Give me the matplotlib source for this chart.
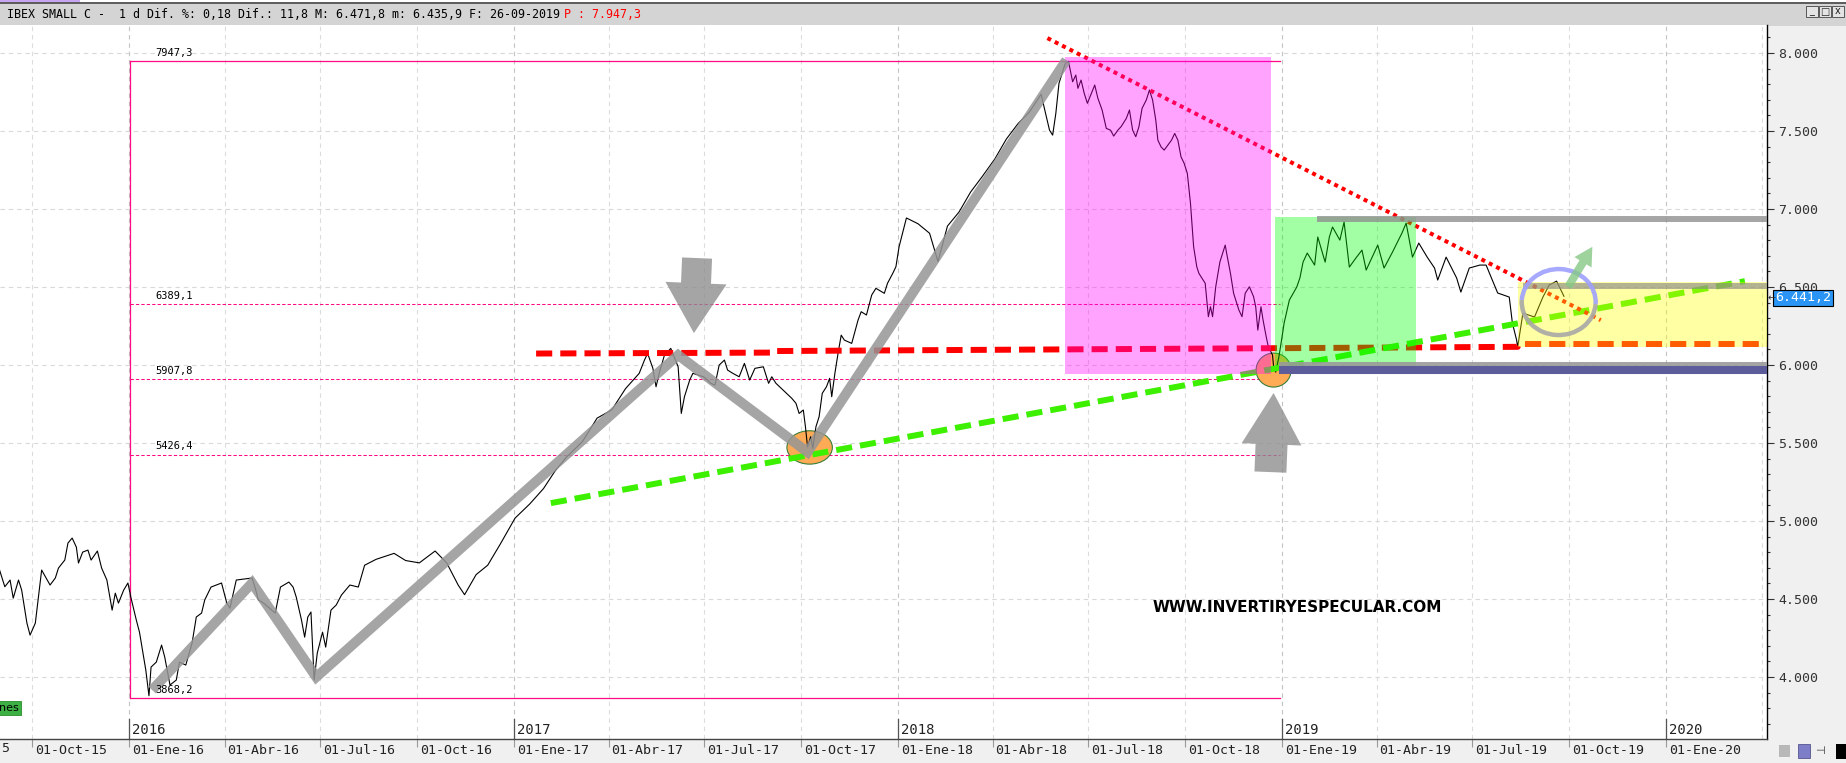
import matplotlib.pyplot as plt
import matplotlib.dates as mdates
from matplotlib.patches import Rectangle, Ellipse, Arc
from matplotlib.transforms import blended_transform_factory, ScaledTranslation
from matplotlib.ticker import MultipleLocator, FuncFormatter
import pandas as pd

# ==================== DATA ====================
price_dates = [
    '2015-08-31', '2015-09-05', '2015-09-10', '2015-09-13', '2015-09-18', '2015-09-21', '2015-09-26',
    '2015-09-29', '2015-10-04', '2015-10-10', '2015-10-18', '2015-10-23', '2015-10-26', '2015-11-01',
    '2015-11-04', '2015-11-08', '2015-11-12', '2015-11-14', '2015-11-18', '2015-11-23', '2015-11-26',
    '2015-12-02', '2015-12-06', '2015-12-11', '2015-12-16', '2015-12-19', '2015-12-22', '2015-12-27',
    '2015-12-31',
    '2016-01-03', '2016-01-08', '2016-01-11', '2016-01-17', '2016-01-20', '2016-01-22', '2016-01-27',
    '2016-02-01', '2016-02-04', '2016-02-09', '2016-02-15', '2016-02-18', '2016-02-24', '2016-03-01',
    '2016-03-05', '2016-03-10', '2016-03-13', '2016-03-19', '2016-03-29', '2016-04-03', '2016-04-06',
    '2016-04-12', '2016-04-27', '2016-04-30', '2016-05-03', '2016-05-08', '2016-05-19', '2016-05-24',
    '2016-06-01', '2016-06-05', '2016-06-08', '2016-06-13', '2016-06-16', '2016-06-19', '2016-06-22',
    '2016-06-25', '2016-06-28', '2016-07-03', '2016-07-06', '2016-07-11', '2016-07-16', '2016-07-21',
    '2016-07-29', '2016-08-06', '2016-08-12', '2016-08-23', '2016-09-09', '2016-09-20', '2016-10-03',
    '2016-10-18', '2016-10-29', '2016-11-09', '2016-11-15', '2016-11-26', '2016-12-07', '2016-12-19',
    '2017-01-02', '2017-01-16', '2017-01-29', '2017-02-09', '2017-02-20', '2017-03-07', '2017-03-21',
    '2017-04-04', '2017-04-17', '2017-04-30', '2017-05-05', '2017-05-08', '2017-05-13', '2017-05-16',
    '2017-05-19', '2017-05-24', '2017-05-30', '2017-06-06', '2017-06-09', '2017-06-12', '2017-06-17',
    '2017-06-20', '2017-06-30', '2017-07-04', '2017-07-07', '2017-07-11', '2017-07-15', '2017-07-20',
    '2017-07-23', '2017-07-28', '2017-08-03', '2017-08-08', '2017-08-13', '2017-08-18', '2017-08-26',
    '2017-08-31', '2017-09-03', '2017-09-07', '2017-09-12', '2017-09-17', '2017-09-22', '2017-09-26',
    '2017-09-29', '2017-10-03', '2017-10-05', '2017-10-07', '2017-10-10', '2017-10-12', '2017-10-15',
    '2017-10-18', '2017-10-21', '2017-10-25', '2017-10-28', '2017-10-30', '2017-11-02', '2017-11-05',
    '2017-11-08', '2017-11-11', '2017-11-18', '2017-11-21', '2017-11-24', '2017-11-27', '2017-12-02',
    '2017-12-07', '2017-12-11', '2017-12-19', '2017-12-22', '2017-12-27', '2017-12-30',
    '2018-01-02', '2018-01-09', '2018-01-20', '2018-01-31', '2018-02-08', '2018-02-17', '2018-02-28',
    '2018-03-11', '2018-03-22', '2018-04-03', '2018-04-14', '2018-04-25', '2018-05-06', '2018-05-17',
    '2018-05-25', '2018-05-28', '2018-05-31', '2018-06-03', '2018-06-09', '2018-06-12', '2018-06-14',
    '2018-06-16', '2018-06-19', '2018-06-21', '2018-06-24', '2018-06-27', '2018-06-30', '2018-07-07',
    '2018-07-10', '2018-07-14', '2018-07-18', '2018-07-22', '2018-07-25', '2018-07-29', '2018-08-01',
    '2018-08-06', '2018-08-09', '2018-08-12', '2018-08-15', '2018-08-18', '2018-08-21', '2018-08-25',
    '2018-08-28', '2018-08-31', '2018-09-03', '2018-09-05', '2018-09-08', '2018-09-11', '2018-09-18',
    '2018-09-21', '2018-09-24', '2018-09-27', '2018-09-30', '2018-10-03', '2018-10-06', '2018-10-09',
    '2018-10-12', '2018-10-14', '2018-10-20', '2018-10-23', '2018-10-25', '2018-10-27', '2018-10-30',
    '2018-11-03', '2018-11-08', '2018-11-10', '2018-11-13', '2018-11-16', '2018-11-19', '2018-11-21',
    '2018-11-24', '2018-11-27', '2018-12-01', '2018-12-05', '2018-12-07', '2018-12-09', '2018-12-12',
    '2018-12-14', '2018-12-17', '2018-12-19', '2018-12-23', '2018-12-24', '2018-12-26', '2018-12-29',
    '2019-01-01', '2019-01-03', '2019-01-08', '2019-01-15', '2019-01-18', '2019-01-21', '2019-01-25',
    '2019-02-01', '2019-02-04', '2019-02-11', '2019-02-15', '2019-02-18', '2019-02-25', '2019-03-01',
    '2019-03-06', '2019-03-12', '2019-03-18', '2019-03-22', '2019-04-02', '2019-04-08', '2019-04-16',
    '2019-04-25', '2019-04-29', '2019-05-05', '2019-05-11', '2019-05-19', '2019-05-26', '2019-05-29',
    '2019-06-06', '2019-06-16', '2019-06-20', '2019-06-28', '2019-07-08', '2019-07-14', '2019-07-25',
    '2019-08-05', '2019-08-08', '2019-08-12', '2019-08-13', '2019-08-18', '2019-08-29', '2019-09-06',
    '2019-09-12', '2019-09-19', '2019-09-26',
]
price_values = [
    4686, 4579, 4622, 4506, 4622, 4558, 4346,
    4269, 4346, 4686, 4590, 4635, 4699, 4750,
    4859, 4891, 4833, 4731, 4801, 4814, 4750,
    4808, 4699, 4622, 4429, 4538, 4474, 4558,
    4603,
    4506, 4365, 4288, 4045, 3880, 4064, 4096,
    4205, 4128, 3949, 3981, 4096, 4077, 4218,
    4385, 4410, 4494, 4577, 4603, 4474, 4442,
    4622, 4635, 4571, 4494, 4474, 4410, 4577,
    4609, 4577, 4513, 4365, 4256, 4385, 4417,
    3981, 4154, 4288, 4192, 4429, 4462, 4526,
    4590, 4577, 4717, 4755, 4793, 4747, 4732,
    4808, 4732, 4589, 4528, 4657, 4717, 4853,
    5019, 5110, 5208, 5321, 5411, 5509, 5660,
    5713, 5849, 5947, 6032, 6075, 5979, 5861,
    5947, 6064, 6107, 5989, 5690, 5797, 5904,
    5947, 5925, 5904, 5883, 5872, 6000, 6032,
    5968, 5947, 5925, 6011, 5904, 5979, 5989,
    5883, 5925, 5883, 5851, 5819, 5787, 5755,
    5690, 5712, 5605, 5476, 5541, 5467, 5605,
    5669, 5819, 5861, 5915, 5797, 5947, 6075,
    6192, 6160, 6139, 6214, 6288, 6342, 6321,
    6449, 6492, 6460, 6524, 6588, 6630,
    6758, 6943, 6906, 6845, 6664, 6891, 6981,
    7109, 7208, 7321, 7449, 7547, 7623, 7736,
    7506, 7474, 7613, 7806, 7934, 7947, 7880,
    7816, 7859, 7774, 7827, 7742, 7678, 7795,
    7710, 7635, 7517, 7506, 7468, 7506, 7528,
    7581, 7635, 7506, 7464, 7528, 7646, 7699,
    7763, 7699, 7571, 7442, 7399, 7378, 7442,
    7485, 7442, 7335, 7293, 7229, 7037, 6758,
    6630, 6588, 6524, 6310, 6374, 6310, 6502,
    6662, 6769, 6694, 6588, 6460, 6396, 6353,
    6310, 6460, 6502, 6438, 6374, 6224, 6374,
    6288, 6181, 6117, 6064, 5989, 5955, 6051,
    6179, 6269, 6417, 6500, 6558, 6660, 6718,
    6641, 6821, 6660, 6821, 6885, 6801, 6917,
    6628, 6684, 6737, 6609, 6769, 6622, 6724,
    6846, 6910, 6692, 6782, 6692, 6622, 6545,
    6692, 6558, 6468, 6622, 6641, 6641, 6462,
    6436, 6269, 6160, 6115, 6333, 6308, 6436,
    6513, 6538, 6441,
]

x_start, x_end = '2015-08-31 10:00', '2020-04-06'
y_min, y_max = 3603, 8180

# Fibonacci frame
fib_start, fib_end = '2016-01-02', '2018-12-30'
fib_high, fib_low = 7947.3, 3868.2
fib_levels = [6389.1, 5907.8, 5426.4]

# hand drawn lines
wave_dates = ['2016-01-23', '2016-04-27', '2016-06-27', '2017-06-06', '2017-10-07', '2018-06-10']
wave_values = [3917, 4603, 4000, 6064, 5442, 7955]
support_dates = ['2017-01-22', '2017-09-05', '2017-09-06', '2019-08-13', '2019-08-14', x_end]
support_values = [6074, 6080, 6090, 6117, 6135, 6135]
trend_up_dates = ['2017-02-05', '2020-03-16']
trend_up_values = [5115, 6538]
trend_down_dates = ['2018-05-23', '2019-10-31']
trend_down_values = [8096, 6288]

# zones: (start, end, low, high)
zone_pink = ('2018-06-09', '2018-12-22', 5940, 7972)
zone_green = ('2018-12-25', '2019-05-08', 5994, 6949)
zone_yellow = ('2019-08-13', x_end, 6115, 6532)

# horizontal bars: (start, level)
bar_top = ('2019-02-03', 6936)
bar_mid = ('2019-08-18', 6506)
bar_low = ('2018-12-29', 6010)
bar_navy = ('2018-12-29', 5968)

quarter_dates = pd.date_range('2015-10-01', '2020-04-01', freq='QS')
label_dates = pd.date_range('2015-10-01', '2020-01-01', freq='QS')
year_dates = pd.date_range('2016-01-01', '2020-01-01', freq='YS')
month_es = {1: 'Ene', 4: 'Abr', 7: 'Jul', 10: 'Oct'}

header_text = 'IBEX SMALL C -  1 d Dif. %: 0,18 Dif.: 11,8 M: 6.471,8 m: 6.435,9 F: 26-09-2019'
header_price = 'P : 7.947,3'
last_price = 6441.2
website = 'WWW.INVERTIRYESPECULAR.COM'

MONO = 'DejaVu Sans Mono'
W, H = 1846, 763


def dn(s):
    return mdates.date2num(pd.Timestamp(s))


def dates(lst):
    return pd.to_datetime(lst)


fig = plt.figure(figsize=(W / 100, H / 100), dpi=100)
ax = fig.add_axes([0, 24 / H, 1767 / W, 714 / H])
ax.set_xlim(pd.Timestamp(x_start), pd.Timestamp(x_end))
ax.set_ylim(y_min, y_max)

# ==================== BACKGROUND PANELS ====================
fig.patches.append(Rectangle((0, 1 - 26 / H), 1, 22 / H, transform=fig.transFigure,
                             fc='#d4d4d4', ec='none', zorder=-2))
fig.patches.append(Rectangle((0, 1 - 4 / H), 1, 2 / H, transform=fig.transFigure,
                             fc='#5e5e5e', ec='none', zorder=-1))
fig.patches.append(Rectangle((0, 1 - 2 / H), 80 / W, 2 / H, transform=fig.transFigure,
                             fc='#c6a4f0', ec='none', zorder=-1))
fig.patches.append(Rectangle((1767 / W, 0), 79 / W, 1 - 26 / H, transform=fig.transFigure,
                             fc='#f0f0f0', ec='none', zorder=-2))
fig.patches.append(Rectangle((0, 0), 1767 / W, 24 / H, transform=fig.transFigure,
                             fc='#f0f0f0', ec='none', zorder=-2))

# ==================== GRID ====================
for v in range(4000, 8001, 500):
    ax.axhline(v, color='#d9d9d9', lw=0.8, ls=(0, (4, 3.5)), zorder=0.5)
for d in quarter_dates:
    col = '#c4c4c4' if d.month == 1 else '#dcdcdc'
    ax.axvline(d, color=col, lw=0.8, ls=(0, (4, 3.5)), zorder=0.5)

# ==================== FIBONACCI FRAME ====================
fib_pink = '#ff0a82'
ax.plot(dates([fib_start, fib_end]), [fib_high, fib_high], color=fib_pink, lw=0.9, zorder=1)
ax.plot(dates([fib_start, fib_end]), [fib_low, fib_low], color=fib_pink, lw=0.9, zorder=1)
ax.plot(dates([fib_start, fib_start]), [fib_low, fib_high], color=fib_pink, lw=0.9, zorder=1)
for lvl in fib_levels:
    ax.plot(dates([fib_start, fib_end]), [lvl, lvl], color=fib_pink, lw=0.75,
            ls=(0, (3.2, 2)), zorder=1)
for lvl in [fib_high] + fib_levels + [fib_low]:
    ax.annotate(f'{lvl:.1f}'.replace('.', ','), xy=(dn(fib_start), lvl), xytext=(18.5, 2.2),
                textcoords='offset points', fontsize=7.5, family=MONO, color='black',
                va='bottom', ha='left', zorder=7)

# ==================== CIRCLES ====================
ax.add_patch(Ellipse((dn('2017-10-09'), 5472), 43.2, 214, fc='#ffaa55', ec='#3a7d3a', lw=0.8, zorder=1.5))
ax.add_patch(Ellipse((dn('2018-12-24'), 5968), 33.3, 218, fc='#ffaa55', ec='#3a7d3a', lw=0.8, zorder=1.5))

# ==================== PRICE ====================
ax.plot(dates(price_dates), price_values, color='black', lw=0.8, zorder=2)

# ==================== HAND DRAWN LINES ====================
ax.plot(dates(support_dates), support_values, color='#ff0000', lw=4.3,
        ls=(0, (2.7, 1.35)), zorder=3)
ax.plot(dates(trend_up_dates), trend_up_values, color='#3cf000', lw=4.3,
        ls=(0, (2.7, 1.35)), zorder=3)
ax.plot(dates(trend_down_dates), trend_down_values, color='#ff0000', lw=2.9,
        ls=(0, (1, 1.05)), zorder=3)

# ==================== ZONES ====================
for (d0, d1, lo, hi), col in [(zone_pink, '#ff00ff'), (zone_green, '#00ff00'), (zone_yellow, '#ffff00')]:
    ax.add_patch(Rectangle((dn(d0), lo), dn(d1) - dn(d0), hi - lo, fc=col, ec='none',
                           alpha=0.36, zorder=4))

ax.plot(dates([bar_top[0], x_end]), [bar_top[1]] * 2, color='#8f8f8f', lw=4.3, alpha=0.8,
        solid_capstyle='butt', zorder=4.5)
ax.plot(dates([bar_mid[0], x_end]), [bar_mid[1]] * 2, color='#8a8a8a', lw=4.3, alpha=0.65,
        solid_capstyle='butt', zorder=4.5)
ax.plot(dates([bar_navy[0], x_end]), [bar_navy[1]] * 2, color='#5c5c9a', lw=5.8,
        solid_capstyle='butt', zorder=4.5)
ax.plot(dates([bar_low[0], x_end]), [bar_low[1]] * 2, color='#9a9a9a', lw=2.9, alpha=0.9,
        solid_capstyle='butt', zorder=4.6)

# wave zigzag
ax.plot(dates(wave_dates), wave_values, color='#969696', lw=7.2, alpha=0.85,
        solid_capstyle='butt', solid_joinstyle='miter', zorder=5)

# ring around last swing
ring_c = (dn('2019-09-21'), 6404)
ax.add_patch(Arc(ring_c, 70.3, 423, theta1=-20, theta2=160, color='#9ea0ff', lw=3.2, alpha=0.9, zorder=5))
ax.add_patch(Arc(ring_c, 70.3, 423, theta1=160, theta2=340, color='#a8a8a8', lw=3.2, alpha=0.9, zorder=5))


def block_arrow(tail, tip, tail_w, head_w, head_l, color, alpha):
    style = f'simple,head_length={head_l},head_width={head_w},tail_width={tail_w}'
    ax.annotate('', xy=(dn(tip[0]), tip[1]), xytext=(dn(tail[0]), tail[1]),
                arrowprops=dict(arrowstyle=style, fc=color, ec='none', alpha=alpha,
                                shrinkA=0, shrinkB=0, mutation_scale=1), zorder=6)


block_arrow(('2017-06-24', 6686), ('2017-06-21', 6205), 21.6, 44, 36, '#8c8c8c', 0.78)
block_arrow(('2018-12-21', 5314), ('2018-12-24', 5821), 23, 43, 37, '#8c8c8c', 0.78)
block_arrow(('2019-09-30', 6502), ('2019-10-23', 6758), 5.8, 14.4, 13, '#86c886', 0.8)

# website watermark
ax.text(0.734, 0.1835, website, transform=ax.transAxes, ha='center', va='center',
        fontsize=11, fontweight='bold', family='DejaVu Sans', color='black', zorder=7)

# ==================== AXES ====================
for side in ['left', 'top']:
    ax.spines[side].set_visible(False)
ax.spines['right'].set_color('black')
ax.spines['right'].set_linewidth(1)
ax.spines['bottom'].set_color('#444444')
ax.spines['bottom'].set_linewidth(1)

ax.yaxis.tick_right()
ax.yaxis.set_major_locator(MultipleLocator(500))
ax.yaxis.set_minor_locator(MultipleLocator(100))
ax.yaxis.set_major_formatter(FuncFormatter(lambda v, _: f'{int(v):,}'.replace(',', '.')))
ax.tick_params(axis='y', which='major', length=5, width=0.8, colors='#333333',
               labelsize=9.5, pad=3, labelfontfamily=MONO)
ax.tick_params(axis='y', which='minor', length=2.5, width=0.8, colors='#333333')

ax.set_xticks(label_dates)
ax.set_xticklabels([f'01-{month_es[d.month]}-{d.year % 100:02d}' for d in label_dates])
ax.tick_params(axis='x', which='major', length=6, width=0.8, colors='#999999',
               labelcolor='#222222', labelsize=9.5, pad=-2.5, labelfontfamily=MONO)
shift = ScaledTranslation(2 / 72, 0, fig.dpi_scale_trans)
for lab in ax.get_xticklabels():
    lab.set_ha('left')
    lab.set_transform(lab.get_transform() + shift)

# tail of the 01-Jul-15 label that sticks in from the left edge
fig.text(1 / W, 1 - 749 / H, '5', ha='left', va='center', fontsize=9.5, family=MONO, color='#222222')

xd_ya = blended_transform_factory(ax.transData, ax.transAxes)
for d in year_dates:
    ax.axvline(d, ymin=0, ymax=20 / 714, color='#555555', lw=0.9, zorder=2)
    ax.text(dn(d), 2 / 714, str(d.year), transform=xd_ya + shift, ha='left', va='bottom',
            fontsize=10, family=MONO, color='#222222')

# last price tag
ya = blended_transform_factory(ax.transAxes, ax.transData)
ax.text(1 + 8 / 1767, 6430, f'{last_price:,.1f}'.replace(',', ' ').replace('.', ',').replace(' ', '.'),
        transform=ya, ha='left', va='center', fontsize=9.5, family=MONO, color='white',
        bbox=dict(boxstyle='square,pad=0.15', fc='#2b95f5', ec='black', lw=0.8),
        clip_on=False, zorder=10)
ax.text(1 + 1 / 1767, 6430, '←', transform=ya, ha='left', va='center', fontsize=7,
        color='#333333', clip_on=False, zorder=10)

# ==================== HEADER & WINDOW CHROME ====================
t = fig.text(7 / W, 1 - 15 / H, header_text, fontsize=8.4, family=MONO, color='black', va='center')
ax.annotate(header_price, xy=(1, 0.5), xycoords=t, xytext=(3, 0), textcoords='offset points',
            fontsize=8.4, family=MONO, color='#ff0000', va='center', annotation_clip=False)

for i, glyph in enumerate(['_', '□', 'x']):
    x0 = (1806 + 13 * i) / W
    fig.patches.append(Rectangle((x0, 1 - 17 / H), 12 / W, 11 / H, transform=fig.transFigure,
                                 fc='#e4e4e4', ec='#444444', lw=0.6))
    fig.text(x0 + 6 / W, 1 - 11.5 / H, glyph, ha='center', va='center', fontsize=7, color='#222222')

fig.text(19 / W, 1 - 708 / H, 'nes', ha='right', va='center', fontsize=8, color='black',
         bbox=dict(boxstyle='square,pad=0.15', fc='#3cb043', ec='#2b8c2b', lw=0.6))

fig.patches.append(Rectangle((1779 / W, 6 / H), 11 / W, 12 / H, transform=fig.transFigure,
                             fc='#b8b8b8', ec='none'))
fig.patches.append(Rectangle((1798 / W, 5 / H), 12 / W, 14 / H, transform=fig.transFigure,
                             fc='#7d7dc8', ec='#55558f', lw=0.6))
fig.text(1820 / W, 12 / H, '⊣', ha='center', va='center', fontsize=8, color='#333333')
fig.patches.append(Rectangle((1836 / W, 4 / H), 10 / W, 15 / H, transform=fig.transFigure,
                             fc='black', ec='none'))

plt.savefig('out.png', dpi=100)
plt.close()
